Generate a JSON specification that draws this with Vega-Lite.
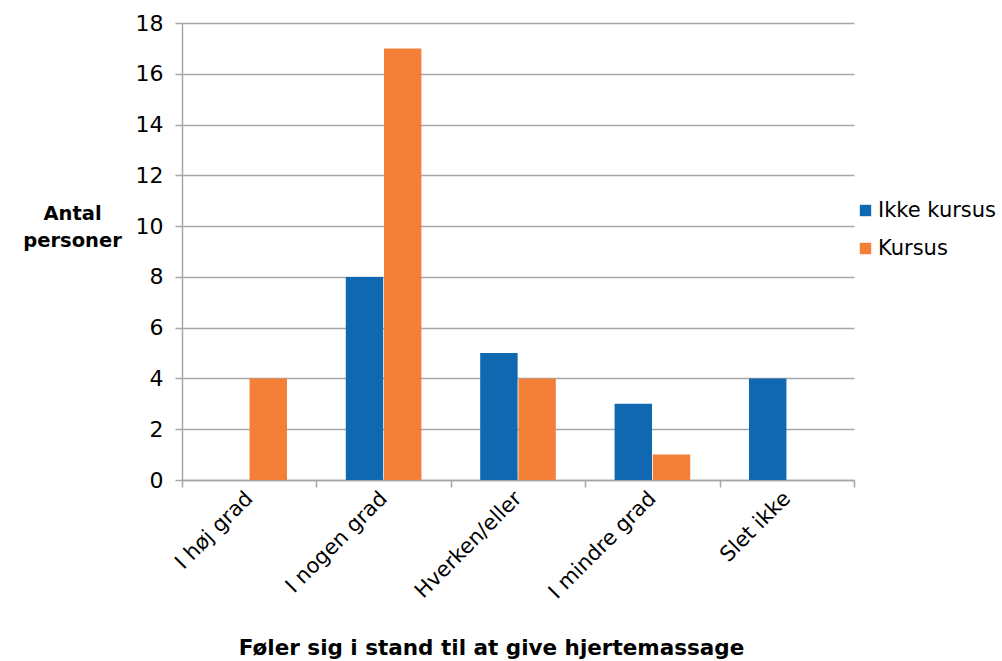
{
  "$schema": "https://vega.github.io/schema/vega-lite/v6.json",
  "width": 672,
  "height": 457,
  "autosize": {"type": "none"},
  "padding": {"left": 182, "top": 23, "right": 148, "bottom": 181},
  "background": "white",
  "config": {
    "font": "DejaVu Sans",
    "view": {"stroke": null},
    "axis": {
      "domainColor": "#a6a6a6",
      "domainWidth": 1.5,
      "tickColor": "#a6a6a6",
      "tickWidth": 1.5,
      "gridColor": "#a6a6a6",
      "gridWidth": 1.5,
      "labelColor": "#000000",
      "titleColor": "#000000",
      "labelFont": "DejaVu Sans",
      "titleFont": "DejaVu Sans"
    }
  },
  "data": {
    "values": [
      {"kategori": "I høj grad", "gruppe": "Ikke kursus", "antal": 0},
      {"kategori": "I høj grad", "gruppe": "Kursus", "antal": 4},
      {"kategori": "I nogen grad", "gruppe": "Ikke kursus", "antal": 8},
      {"kategori": "I nogen grad", "gruppe": "Kursus", "antal": 17},
      {"kategori": "Hverken/eller", "gruppe": "Ikke kursus", "antal": 5},
      {"kategori": "Hverken/eller", "gruppe": "Kursus", "antal": 4},
      {"kategori": "I mindre grad", "gruppe": "Ikke kursus", "antal": 3},
      {"kategori": "I mindre grad", "gruppe": "Kursus", "antal": 1},
      {"kategori": "Slet ikke", "gruppe": "Ikke kursus", "antal": 4},
      {"kategori": "Slet ikke", "gruppe": "Kursus", "antal": 0}
    ]
  },
  "mark": {"type": "bar"},
  "encoding": {
    "x": {
      "field": "kategori",
      "type": "nominal",
      "sort": ["I høj grad", "I nogen grad", "Hverken/eller", "I mindre grad", "Slet ikke"],
      "scale": {"paddingInner": 0, "paddingOuter": 0},
      "axis": {
        "title": "Føler sig i stand til at give hjertemassage",
        "titleFontSize": 21.5,
        "titleFontWeight": "bold",
        "titleX": 309,
        "titleY": 168,
        "titleAlign": "center",
        "titleBaseline": "middle",
        "labelAngle": -45,
        "labelFontSize": 21,
        "labelAlign": "right",
        "labelBaseline": "middle",
        "labelPadding": 8,
        "tickBand": "extent",
        "tickSize": 7,
        "grid": false
      }
    },
    "xOffset": {
      "field": "gruppe",
      "type": "nominal",
      "sort": ["Ikke kursus", "Kursus"],
      "scale": {"paddingInner": 0.02, "paddingOuter": 0.77}
    },
    "y": {
      "field": "antal",
      "type": "quantitative",
      "scale": {"domain": [0, 18], "nice": false},
      "axis": {
        "values": [0, 2, 4, 6, 8, 10, 12, 14, 16, 18],
        "title": ["Antal", "personer"],
        "titleAngle": 0,
        "titleFontSize": 19.5,
        "titleFontWeight": "bold",
        "titleAlign": "center",
        "titleBaseline": "middle",
        "titleX": -110,
        "titleY": 190,
        "titleLineHeight": 27,
        "labelFontSize": 22,
        "labelPadding": 12,
        "tickSize": 7,
        "grid": true
      }
    },
    "color": {
      "field": "gruppe",
      "type": "nominal",
      "sort": ["Ikke kursus", "Kursus"],
      "scale": {"domain": ["Ikke kursus", "Kursus"], "range": ["#1068b0", "#f37f39"]},
      "legend": {
        "title": null,
        "orient": "none",
        "legendX": 673,
        "legendY": 177,
        "symbolType": "square",
        "symbolSize": 130,
        "symbolStrokeWidth": 0,
        "labelFontSize": 21,
        "labelFont": "DejaVu Sans",
        "labelColor": "#000000",
        "labelOffset": 2,
        "rowPadding": 16
      }
    }
  }
}
